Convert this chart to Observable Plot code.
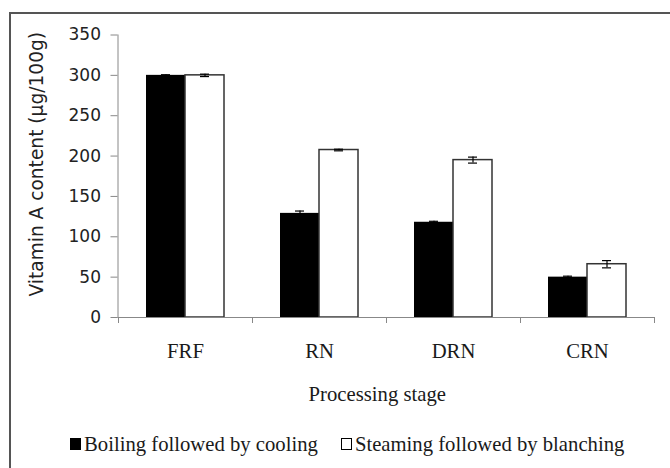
<!DOCTYPE html>
<html>
<head>
<meta charset="utf-8">
<script src="https://cdn.jsdelivr.net/npm/d3@7"></script>
<script src="https://cdn.jsdelivr.net/npm/@observablehq/plot@0.6"></script>
<style>
  html, body { margin: 0; padding: 0; background: #fff; }
  #wrap { position: relative; width: 670px; height: 468px; overflow: hidden; }
  #border { position: absolute; left: 9px; top: 12px; width: 720px; height: 520px; border: 2px solid #555; box-sizing: border-box; }
  #chart { position: absolute; left: 0; top: 0; }
  #legend { position: absolute; left: 70px; top: 434px; display: flex; align-items: center;
            font-family: "Liberation Serif", serif; font-size: 20.7px; line-height: 20px; color: #1a1a1a; white-space: nowrap; }
  .item { display: flex; align-items: center; }
  .sw { display: inline-block; width: 11px; height: 12px; box-sizing: border-box; border: 1px solid #000; margin-right: 3px; }
</style>
</head>
<body>
<div id="wrap">
  <div id="border"></div>
  <div id="chart"></div>
  <div id="legend"></div>
</div>
<script>
// ---- data ----
const stages = ["FRF", "RN", "DRN", "CRN"];
const seriesNames = ["Boiling followed by cooling", "Steaming followed by blanching"];
const boilingValues = [300, 129, 118, 50];
const boilingErrors = [0.8, 2.9, 1.2, 1.2];
const steamingValues = [300, 207.5, 195, 66];
const steamingErrors = [1.5, 1.0, 3.7, 4.5];
const yTicks = [0, 50, 100, 150, 200, 250, 300, 350];
const yTitle = "Vitamin A content (µg/100g)";
const xTitle = "Processing stage";
const seriesFills = ["#000000", "#ffffff"];

const boilRows = stages.map((s, i) => ({stage: s, series: seriesNames[0], value: boilingValues[i], err: boilingErrors[i]}));
const steamRows = stages.map((s, i) => ({stage: s, series: seriesNames[1], value: steamingValues[i], err: steamingErrors[i]}));

const chart = Plot.plot({
  width: 670,
  height: 415,
  marginTop: 34.5,
  marginBottom: 98,
  marginLeft: 117.5,
  marginRight: 16,
  style: {background: "transparent", color: "#222", fontFamily: "DejaVu Sans", fontSize: "17px"},
  x: {domain: stages, padding: 0, axis: null},
  y: {domain: [0, 350], axis: null},
  marks: [
    // bars
    Plot.barY(boilRows, {x: "stage", y: "value", fill: seriesFills[0], insetLeft: 28, insetRight: 67}),
    Plot.barY(steamRows, {x: "stage", y: "value", fill: seriesFills[1], stroke: "#333", strokeWidth: 1.5, insetLeft: 67, insetRight: 28}),
    // error bars
    Plot.ruleX(boilRows, {x: "stage", y1: d => d.value - d.err, y2: d => d.value + d.err, dx: -19.5, stroke: "#000", strokeWidth: 1.2}),
    Plot.ruleX(steamRows, {x: "stage", y1: d => d.value - d.err, y2: d => d.value + d.err, dx: 19.5, stroke: "#000", strokeWidth: 1.2}),
    Plot.tickY(boilRows, {x: "stage", y: d => d.value + d.err, insetLeft: 43, insetRight: 82, stroke: "#000", strokeWidth: 1.2}),
    Plot.tickY(boilRows, {x: "stage", y: d => d.value - d.err, insetLeft: 43, insetRight: 82, stroke: "#000", strokeWidth: 1.2}),
    Plot.tickY(steamRows, {x: "stage", y: d => d.value + d.err, insetLeft: 82, insetRight: 43, stroke: "#000", strokeWidth: 1.2}),
    Plot.tickY(steamRows, {x: "stage", y: d => d.value - d.err, insetLeft: 82, insetRight: 43, stroke: "#000", strokeWidth: 1.2}),
    // axes
    Plot.frame({anchor: "left", stroke: "#888"}),
    Plot.frame({anchor: "bottom", stroke: "#888"}),
    Plot.ruleX(stages, {x: d => d, dx: -67, y1: 0, y2: 0, insetBottom: -6, stroke: "#888"}),
    Plot.ruleX(stages.slice(-1), {x: d => d, dx: 67, y1: 0, y2: 0, insetBottom: -6, stroke: "#888"}),
    Plot.axisY({ticks: yTicks, tickSize: 7, tickPadding: 10, stroke: "#888", fill: "#222", fontFamily: "DejaVu Sans", fontSize: 17, label: null}),
    Plot.axisX({tickSize: 0, tickPadding: 25.5, fill: "#1a1a1a", fontFamily: "Liberation Serif", fontSize: 20.7, label: null}),
    // titles
    Plot.text([yTitle], {frameAnchor: "left", textAnchor: "middle", lineAnchor: "middle", rotate: -90, dx: -80.5, dy: -12, fill: "#222", fontFamily: "DejaVu Sans", fontSize: 18.6}),
    Plot.text([xTitle], {frameAnchor: "bottom", textAnchor: "middle", lineAnchor: "middle", dx: -9, dy: 76.4, fill: "#1a1a1a", fontFamily: "Liberation Serif", fontSize: 20.7})
  ]
});
document.getElementById("chart").appendChild(chart);

// legend
const legend = document.getElementById("legend");
seriesNames.forEach((name, i) => {
  const item = document.createElement("span");
  item.className = "item";
  if (i > 0) item.style.marginLeft = "23px";
  const sw = document.createElement("span");
  sw.className = "sw";
  sw.style.background = seriesFills[i];
  item.appendChild(sw);
  const t = document.createElement("span");
  t.textContent = name;
  item.appendChild(t);
  legend.appendChild(item);
});
</script>
</body>
</html>
